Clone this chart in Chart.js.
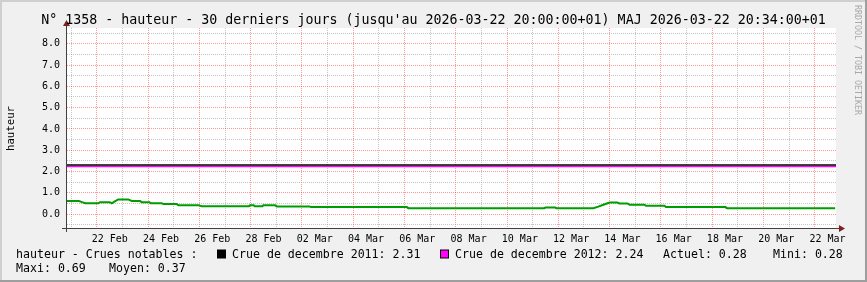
<!DOCTYPE html>
<html>
<head>
<meta charset="utf-8">
<script src="https://cdn.jsdelivr.net/npm/chart.js@4/dist/chart.umd.min.js"></script>
<style>
  body { margin: 0; background: #f0f0f0; }
  canvas { display: block; }
</style>
</head>
<body>
<canvas id="myChart" width="867" height="282"></canvas>
<script>
// Donnees (x = jours depuis le 20 Feb 00:00)
const xMin = 0.8333
const xMax = 30.8333
const dateLabels = ["22 Feb", "24 Feb", "26 Feb", "28 Feb", "02 Mar", "04 Mar", "06 Mar", "08 Mar",
    "10 Mar", "12 Mar", "14 Mar", "16 Mar", "18 Mar", "20 Mar", "22 Mar"]
const labelDays = [2, 4, 6, 8, 10, 12, 14, 16, 18, 20, 22, 24, 26, 28, 30]
const yTicks = [-0.5, 0, 0.5, 1, 1.5, 2, 2.5, 3, 3.5, 4, 4.5, 5, 5.5, 6, 6.5, 7, 7.5, 8, 8.5]

const hauteurTemps = [0.83, 1.30, 1.42, 1.55, 2.05, 2.12, 2.50, 2.58, 2.70, 2.83, 3.22, 3.36, 3.68, 3.75,
    4.05, 4.10, 4.53, 4.59, 5.11, 5.18, 5.96, 6.09, 7.93, 7.97, 8.12, 8.16, 8.45, 8.49, 8.95, 9.02,
    10.30, 10.35, 14.09, 14.15, 19.45, 19.50, 19.88, 19.93, 21.37, 21.56, 21.76, 21.95, 22.02, 22.30,
    22.38, 22.70, 22.78, 23.36, 23.42, 24.14, 24.20, 26.52, 26.58, 30.80]
const hauteurValeurs = [0.62, 0.61, 0.56, 0.51, 0.51, 0.56, 0.56, 0.51, 0.60, 0.69, 0.69, 0.62, 0.62, 0.56,
    0.56, 0.51, 0.51, 0.47, 0.47, 0.42, 0.42, 0.37, 0.37, 0.41, 0.41, 0.37, 0.37, 0.41, 0.41, 0.36,
    0.36, 0.33, 0.33, 0.28, 0.28, 0.31, 0.31, 0.28, 0.28, 0.35, 0.44, 0.52, 0.55, 0.55,
    0.50, 0.50, 0.44, 0.44, 0.39, 0.39, 0.33, 0.33, 0.28, 0.28]

const crue2011 = 2.31
const crue2012 = 2.24

const titre = "N° 1358 - hauteur - 30 derniers jours (jusqu'au 2026-03-22 20:00:00+01) MAJ 2026-03-22 20:34:00+01"
const mono = "'DejaVu Sans Mono', monospace"

// Ticks de l'axe x : minuits (grille) + midis (etiquettes)
const xTicks = []
for (let d = 1; d <= 30; d++) {
    xTicks.push(d)
    if (labelDays.includes(d)) xTicks.push(d + 0.5)
}

const isMajorX = v => Number.isInteger(v) && v % 2 === 0
const isLabelX = v => !Number.isInteger(v)

// Plugin : fond, axes, fleches, textes
const decorRrd = {
    id: "decorRrd",
    beforeDraw(chart) {
        const ctx = chart.ctx
        const a = chart.chartArea
        ctx.save()
        ctx.fillStyle = "#f0f0f0"
        ctx.fillRect(0, 0, chart.width, chart.height)
        ctx.fillStyle = "#cfcfcf"
        ctx.fillRect(0, 0, chart.width, 2)
        ctx.fillRect(0, 0, 2, chart.height)
        ctx.fillStyle = "#9e9e9e"
        ctx.fillRect(chart.width - 2, 0, 2, chart.height)
        ctx.fillRect(0, chart.height - 2, chart.width, 2)
        ctx.fillStyle = "#ffffff"
        ctx.fillRect(a.left, a.top, a.right - a.left, a.bottom - a.top)
        ctx.restore()
    },
    afterDraw(chart) {
        const ctx = chart.ctx
        const a = chart.chartArea
        const ax = Math.round(a.left) - 0.5
        const ay = Math.round(a.bottom) - 0.5
        ctx.save()
        // axes
        ctx.strokeStyle = "#404040"
        ctx.lineWidth = 1
        ctx.beginPath()
        ctx.moveTo(a.left - 5, ay)
        ctx.lineTo(a.right + 4, ay)
        ctx.moveTo(ax, a.bottom + 3)
        ctx.lineTo(ax, a.top - 3)
        ctx.stroke()
        // fleches
        ctx.fillStyle = "#7f1f1f"
        ctx.beginPath()
        ctx.moveTo(a.right + 3, ay - 3.5)
        ctx.lineTo(a.right + 9, ay)
        ctx.lineTo(a.right + 3, ay + 3.5)
        ctx.fill()
        ctx.beginPath()
        ctx.moveTo(ax - 3.5, a.top - 2)
        ctx.lineTo(ax, a.top - 8)
        ctx.lineTo(ax + 3.5, a.top - 2)
        ctx.fill()

        // titre
        ctx.fillStyle = "#000"
        ctx.textBaseline = "alphabetic"
        ctx.textAlign = "center"
        ctx.font = "13.3px " + mono
        ctx.fillText(titre, chart.width / 2, 24)

        // titre axe y
        ctx.save()
        ctx.translate(14, (a.top + a.bottom) / 2)
        ctx.rotate(-Math.PI / 2)
        ctx.font = "10.7px " + mono
        ctx.textAlign = "center"
        ctx.fillText("hauteur", 0, 0)
        ctx.restore()

        // filigrane
        ctx.save()
        ctx.translate(855, 5)
        ctx.rotate(Math.PI / 2)
        ctx.font = "8.3px " + mono
        ctx.fillStyle = "#a8a8a8"
        ctx.textAlign = "left"
        ctx.fillText("RRDTOOL / TOBI OETIKER", 0, 0)
        ctx.restore()

        // legende
        ctx.font = "11.6px " + mono
        ctx.textAlign = "left"
        ctx.fillStyle = "#000"
        ctx.fillText("hauteur - Crues notables :", 16, 258)
        ctx.fillStyle = "#000000"
        ctx.fillRect(217, 249.5, 9, 9)
        ctx.fillStyle = "#000"
        ctx.fillText("Crue de decembre 2011: " + crue2011.toFixed(2), 232, 258)
        ctx.fillStyle = "#000000"
        ctx.fillRect(440, 249.5, 9, 9)
        ctx.fillStyle = "#ff00ff"
        ctx.fillRect(441, 250.5, 7, 7)
        ctx.fillStyle = "#000"
        ctx.fillText("Crue de decembre 2012: " + crue2012.toFixed(2), 455, 258)
        const actuel = hauteurValeurs[hauteurValeurs.length - 1]
        const mini = Math.min(...hauteurValeurs)
        const maxi = Math.max(...hauteurValeurs)
        ctx.fillText("Actuel: " + actuel.toFixed(2), 663, 258)
        ctx.fillText("Mini: " + mini.toFixed(2), 773, 258)
        ctx.fillText("Maxi: " + maxi.toFixed(2), 16, 271.5)
        ctx.fillText("Moyen: 0.37", 109, 271.5)
        ctx.restore()
    }
}

const config = {
    type: "line",
    data: {
        datasets: [
            {
                label: "Crue de decembre 2011",
                data: [{ x: xMin, y: crue2011 }, { x: xMax, y: crue2011 }],
                borderColor: "#000000",
                borderWidth: 1.5,
                pointRadius: 0
            },
            {
                label: "Crue de decembre 2012",
                data: [{ x: xMin, y: crue2012 }, { x: xMax, y: crue2012 }],
                borderColor: "#ff00ff",
                borderWidth: 1.5,
                pointRadius: 0
            },
            {
                label: "hauteur",
                data: hauteurTemps.map((t, i) => ({ x: t, y: hauteurValeurs[i] })),
                borderColor: "#009c00",
                borderWidth: 2,
                pointRadius: 0,
                tension: 0
            }
        ]
    },
    options: {
        responsive: false,
        animation: false,
        devicePixelRatio: 1,
        layout: { padding: { left: 0, right: 31, top: 28, bottom: 33 } },
        plugins: {
            legend: { display: false },
            title: { display: false },
            tooltip: { enabled: false }
        },
        scales: {
            x: {
                type: "linear",
                min: xMin,
                max: xMax,
                afterBuildTicks: scale => { scale.ticks = xTicks.map(v => ({ value: v })) },
                afterFit: scale => { scale.height = 20 },
                border: { display: false, dash: [1, 1] },
                grid: {
                    drawTicks: false,
                    color: c => isLabelX(c.tick.value) ? "rgba(0,0,0,0)"
                        : (isMajorX(c.tick.value) ? "rgba(255,0,0,0.4)" : "rgba(150,150,150,0.55)"),
                    lineWidth: 1
                },
                ticks: {
                    autoSkip: false,
                    maxRotation: 0,
                    padding: 4,
                    color: "#000",
                    font: { family: mono, size: 10 },
                    callback: v => isLabelX(v) ? dateLabels[labelDays.indexOf(v - 0.5)] : ""
                }
            },
            y: {
                min: -0.7,
                max: 8.74,
                afterBuildTicks: scale => { scale.ticks = yTicks.map(v => ({ value: v })) },
                afterFit: scale => { scale.width = 67 },
                border: { display: false, dash: [1, 1] },
                grid: {
                    drawTicks: false,
                    color: c => Number.isInteger(c.tick.value) ? "rgba(255,0,0,0.4)" : "rgba(150,150,150,0.55)",
                    lineWidth: 1
                },
                ticks: {
                    autoSkip: false,
                    padding: 7,
                    color: "#000",
                    font: { family: mono, size: 10 },
                    callback: v => Number.isInteger(v) && v >= 0 ? v.toFixed(1) : ""
                }
            }
        }
    },
    plugins: [decorRrd]
}

const myChart = new Chart(document.querySelector("#myChart").getContext("2d"), config)
</script>
</body>
</html>
